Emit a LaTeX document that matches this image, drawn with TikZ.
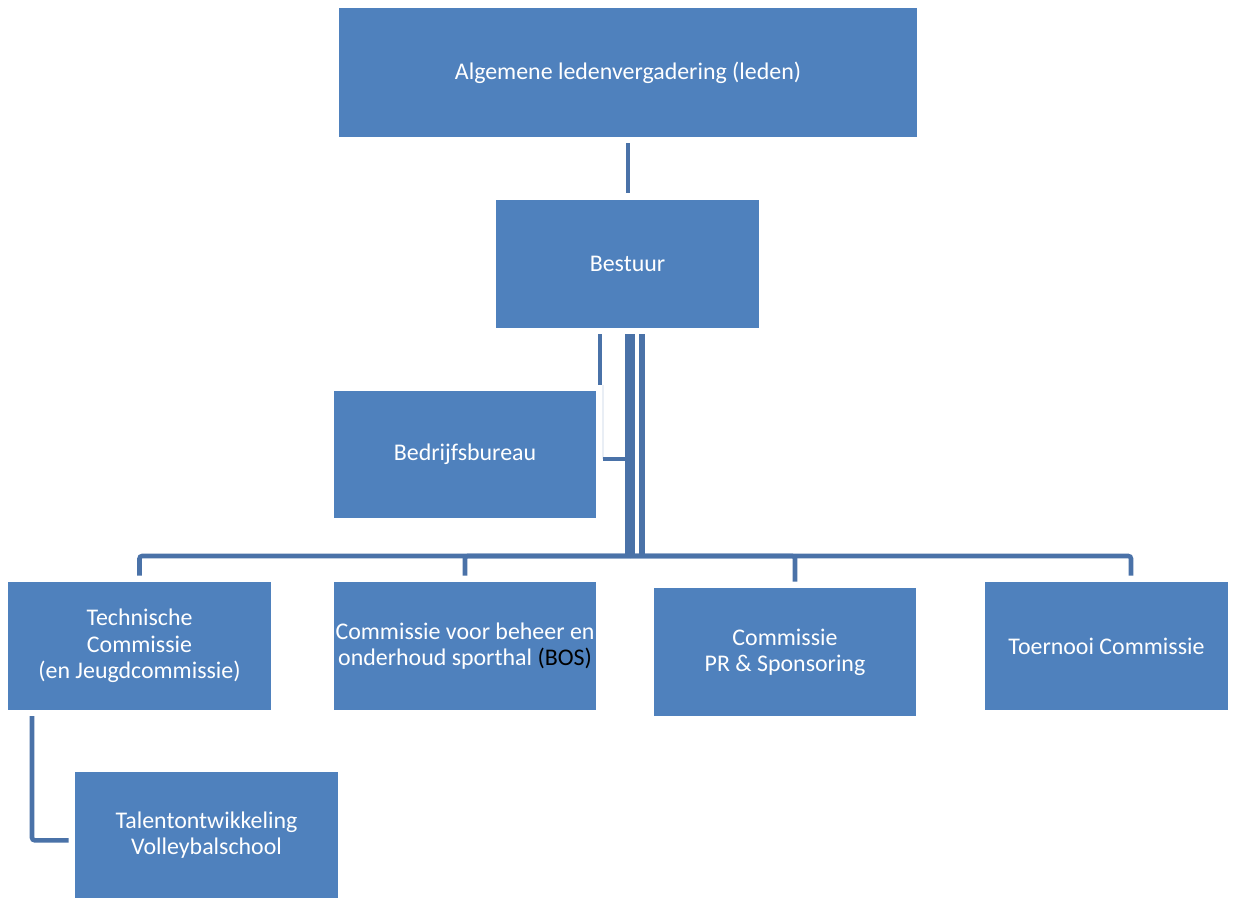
\documentclass[tikz,border=0pt]{standalone}
\usepackage{fontspec}
\setmainfont{Carlito}
\usetikzlibrary{positioning}
\definecolor{boxblue}{HTML}{4F81BD}
\definecolor{lineblue}{HTML}{4A72A8}
\tikzset{
  orgbox/.style={fill=boxblue, text=white, align=center, inner sep=0pt,
    minimum width=5.26cm, minimum height=2.56cm, font=\fontsize{13.6}{15}\selectfont},
  link/.style={draw=lineblue, line width=2.6pt, rounded corners=1.5pt}
}

\begin{document}
\begin{tikzpicture}[x=0.02cm, y=-0.02cm]
  \useasboundingbox (0,0) rectangle (1243,899);
  % boxes
  \node[orgbox, minimum width=11.56cm, minimum height=2.58cm](alv) at (628,72.5){Algemene ledenvergadering (leden)};
  \node[orgbox](bestuur) at (627.5,264){Bestuur};
  \node[orgbox](bb) at (465,454.5){Bedrijfsbureau};
  \node[orgbox](tc) at (139.5,646){Technische\\Commissie\\(en Jeugdcommissie)};
  \node[orgbox](bos) at (465,646){Commissie voor beheer en\\onderhoud sporthal {\color{black}(BOS)}};
  \node[orgbox](pr) at (785,652){Commissie\\PR \& Sponsoring};
  \node[orgbox, minimum width=4.86cm](toernooi) at (1106.5,646){Toernooi Commissie};
  \node[orgbox, minimum height=2.52cm](talent) at (206.5,835){Talentontwikkeling\\Volleybalschool};
  % connectors
  \coordinate (bus) at (630,556);
  \coordinate (bus2) at (642,556);
  \coordinate (bbknee) at (603,459);
  \coordinate (tcleg) at (32,716);
  \draw[link](alv.south) ++(0,6) -- ([yshift=3.9pt]alv.south |- bestuur.north);
  \draw[link, line width=5.7pt](bus |- bestuur.south) ++(0,6) -- (bus);
  \draw[link, line width=3pt](bus2 |- bestuur.south) ++(0,6) -- (bus2);
  \draw[link](bus) -| ([yshift=3.4pt]tc.north);
  \draw[link](bus) -| ([yshift=3.4pt]bos.north);
  \draw[link](bus) -| ([xshift=0.2cm, yshift=3.4pt]pr.north);
  \draw[link](bus) -| ([xshift=0.49cm, yshift=3.4pt]toernooi.north);
  \draw[link](bbknee |- bestuur.south) ++(-3,6) -- ++(0,51);
  \draw[lineblue!12, line width=0.8pt](bbknee) ++(0,-74) -- (bbknee);
  \draw[link](bbknee) -- (bbknee -| bus);
  \draw[link](tcleg) |- ([xshift=-3.4pt, yshift=-3pt]talent.west);
\end{tikzpicture}
\end{document}
